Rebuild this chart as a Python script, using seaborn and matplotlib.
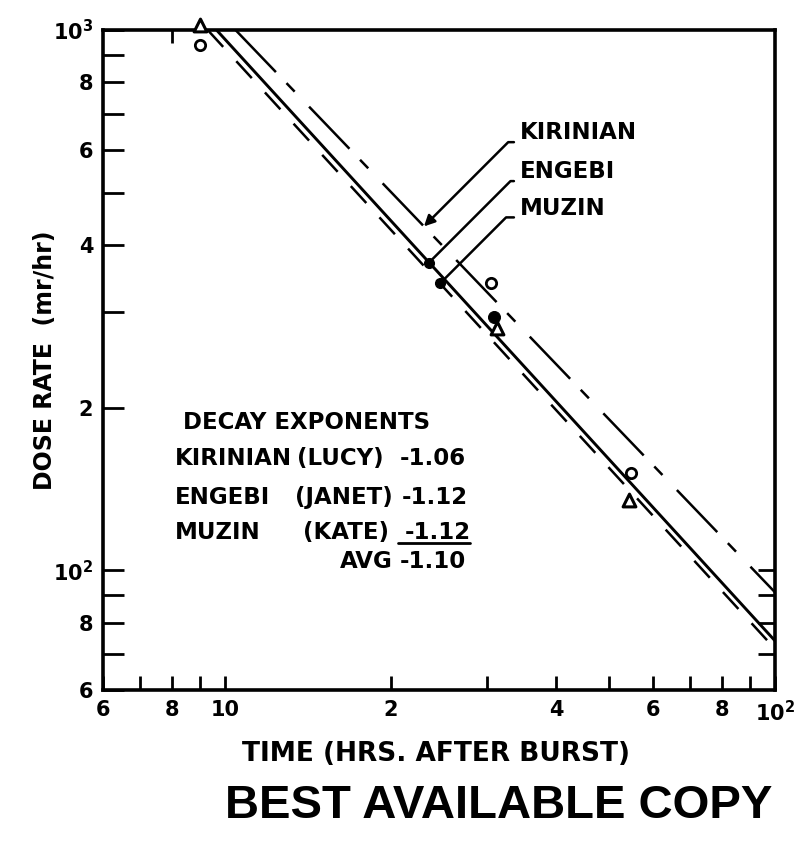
import numpy as np
import pandas as pd
import matplotlib
matplotlib.use("Agg")
import matplotlib.pyplot as plt
import seaborn as sns
from matplotlib import font_manager
from matplotlib.ticker import FixedLocator, FixedFormatter, NullLocator, NullFormatter
from matplotlib.lines import Line2D

# ---------------- data ----------------
kirinian_t = [10.45, 100.0]
kirinian_d = [1000.0, 91.0]
engebi_t = [9.65, 100.0]
engebi_d = [1000.0, 74.0]
muzin_t = [9.3, 100.0]
muzin_d = [1000.0, 71.5]

circle_t = [9.0, 30.5, 54.7]
circle_d = [940.0, 340.0, 151.0]
triangle_t = [9.0, 31.2, 54.2]
triangle_d = [1022.0, 281.0, 135.0]
dot_t = [30.8]
dot_d = [294.0]

xtick_vals = [6, 8, 10, 20, 40, 60, 80, 100]
xtick_labels = ['6', '8', '10', '2', '4', '6', '8', r'$\mathbf{10^{2}}$']
xminor_vals = [7, 9, 30, 50, 70, 90]
ytick_vals = [60, 80, 100, 200, 400, 600, 800, 1000]
ytick_labels = ['6', '8', r'$\mathbf{10^{2}}$', '2', '4', '6', '8', r'$\mathbf{10^{3}}$']
yminor_vals = [70, 90, 300, 500, 700, 900]
top_ticks = [8]
right_ticks = [70, 80, 90, 100]

site_names = ['KIRINIAN', 'ENGEBI', 'MUZIN']
shot_names = ['(LUCY)', '(JANET)', '(KATE)']
exp_values = ['-1.06', '-1.12', '-1.12']
avg_value = '-1.10'
leader_t = [23.0, 23.5, 24.6]

# ---------------- style ----------------
sns.set_style("white")
plt.rcParams['font.family'] = ['DejaVu Sans']
plt.rcParams['font.weight'] = 'bold'
plt.rcParams['mathtext.fontset'] = 'dejavusans'
plt.rcParams['lines.scale_dashes'] = False
for key in ['text.color', 'axes.labelcolor', 'xtick.color', 'ytick.color', 'axes.edgecolor']:
    plt.rcParams[key] = 'black'

fig = plt.figure(figsize=(8.08, 8.41), dpi=100)
ax = fig.add_axes([103 / 808, 1 - 690 / 841, 672 / 808, 660 / 841])
ax.set_xscale('log')
ax.set_yscale('log')

# ---------------- lines ----------------
sns.lineplot(x=kirinian_t, y=kirinian_d, ax=ax, color='black', linewidth=1.8,
             estimator=None, sort=False)
ax.lines[-1].set_dashes([42, 11, 8.5, 15])
sns.lineplot(x=engebi_t, y=engebi_d, ax=ax, color='black', linewidth=2.1,
             estimator=None, sort=False)
sns.lineplot(x=muzin_t, y=muzin_d, ax=ax, color='black', linewidth=1.8,
             estimator=None, sort=False)
ax.lines[-1].set_dashes([16.5, 14])

# ---------------- points ----------------
sns.scatterplot(x=circle_t, y=circle_d, ax=ax, marker='o', s=55,
                facecolor='white', edgecolor='black', linewidth=2.0, zorder=5,
                clip_on=False)
sns.scatterplot(x=triangle_t, y=triangle_d, ax=ax, marker='^', s=85,
                facecolor='white', edgecolor='black', linewidth=2.2, zorder=5,
                clip_on=False)
sns.scatterplot(x=dot_t, y=dot_d, ax=ax, marker='o', s=75,
                color='black', edgecolor='black', zorder=6)

ax.set_xlim(6, 100)
ax.set_ylim(60, 1000)

# ---------------- axes, ticks ----------------
for sp in ax.spines.values():
    sp.set_visible(True)
    sp.set_linewidth(2.6)
    sp.set_color('black')

ax.xaxis.set_major_locator(FixedLocator(xtick_vals))
ax.xaxis.set_major_formatter(FixedFormatter(xtick_labels))
ax.xaxis.set_minor_locator(FixedLocator(xminor_vals))
ax.xaxis.set_minor_formatter(NullFormatter())
ax.yaxis.set_major_locator(FixedLocator(ytick_vals))
ax.yaxis.set_major_formatter(FixedFormatter(ytick_labels))
ax.yaxis.set_minor_locator(FixedLocator(yminor_vals))
ax.yaxis.set_minor_formatter(NullFormatter())

ax.tick_params(axis='x', which='both', direction='in', length=10, width=2.0,
               pad=7, labelsize=15, colors='black', bottom=True, top=False)
ax.tick_params(axis='y', which='both', direction='in', length=15, width=2.0,
               pad=7, labelsize=15, colors='black', left=True, right=False)
for lab in ax.get_xticklabels() + ax.get_yticklabels():
    lab.set_fontweight('bold')

sec_top = ax.secondary_xaxis('top')
sec_top.set_xticks(top_ticks)
sec_top.xaxis.set_minor_locator(NullLocator())
sec_top.tick_params(direction='in', length=9, width=2.0, labeltop=False, top=True,
                    colors='black')
sec_top.spines['top'].set_visible(False)

sec_right = ax.secondary_yaxis('right')
sec_right.set_yticks(right_ticks)
sec_right.yaxis.set_minor_locator(NullLocator())
sec_right.tick_params(direction='in', length=12, width=2.0, labelright=False, right=True,
                      colors='black')
sec_right.spines['right'].set_visible(False)

ax.set_xlabel('TIME (HRS. AFTER BURST)', fontsize=19, fontweight='bold', va='top')
ax.xaxis.set_label_coords(0.4955, -0.078)
ax.set_ylabel('DOSE RATE  (mr/hr)', fontsize=17, fontweight='bold')
ax.yaxis.set_label_coords(-0.0685, 0.5)

# ---------------- decay exponent table ----------------
tkw = dict(transform=ax.transAxes, fontsize=16.5, fontweight='bold', va='center', ha='left')
ax.text(0.119, 0.406, 'DECAY EXPONENTS', **tkw)
row_y = [0.3515, 0.292, 0.239]
shot_x = [0.289, 0.286, 0.298]
val_x = [0.442, 0.445, 0.449]
for name, shot, val, y, sx, vx in zip(site_names, shot_names, exp_values, row_y, shot_x, val_x):
    ax.text(0.107, y, name, **tkw)
    ax.text(sx, y, shot, **tkw)
    ax.text(vx, y, val, **tkw)
ax.add_line(Line2D([0.439, 0.546], [0.2227, 0.2227], transform=ax.transAxes,
                   color='black', lw=2.0))
ax.text(0.353, 0.194, 'AVG', **tkw)
ax.text(0.442, 0.194, avg_value, **tkw)

# ---------------- leader annotations ----------------
def on_line(ts, ds, t):
    lt = np.log10(ts)
    ld = np.log10(ds)
    return 10 ** np.interp(np.log10(t), lt, ld)

series = [(kirinian_t, kirinian_d), (engebi_t, engebi_d), (muzin_t, muzin_d)]
label_y = [0.844, 0.785, 0.730]
for i, (name, (ts, ds), t, ly) in enumerate(zip(site_names, series, leader_t, label_y)):
    d = on_line(ts, ds, t)
    style = '-|>' if i == 0 else '-'
    ax.annotate(name, xy=(t, d), xycoords='data', xytext=(0.6205, ly),
                textcoords='axes fraction', ha='left', va='center',
                fontsize=16.5, fontweight='bold',
                arrowprops=dict(arrowstyle=style, color='black', lw=1.8,
                                connectionstyle='angle,angleA=0,angleB=45,rad=0',
                                relpos=(0, 0.1), shrinkA=2, shrinkB=0,
                                mutation_scale=16))
    if i > 0:
        ax.plot([t], [d], 'o', color='black', ms=7, zorder=7)

# ---------------- stamp ----------------
available = {f.name for f in font_manager.fontManager.ttflist}
if 'Liberation Sans Narrow' in available:
    stamp_family, stamp_size = 'Liberation Sans Narrow', 41
elif 'Liberation Sans' in available:
    stamp_family, stamp_size = 'Liberation Sans', 34
else:
    stamp_family, stamp_size = 'DejaVu Sans', 31
fig.text(0.6176, 0.0416, 'BEST AVAILABLE COPY', ha='center', va='center',
         fontsize=stamp_size, fontweight='bold', family=stamp_family, color='black')

fig.savefig('out.png', dpi=100, facecolor='white')
